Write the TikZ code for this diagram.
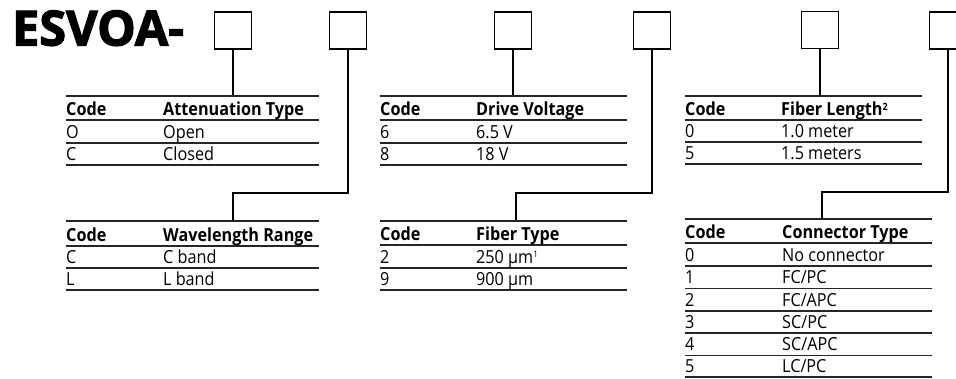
\documentclass[tikz,border=0pt]{standalone}
\usepackage{fontspec}
\setmainfont[FakeStretch=0.9]{Open Sans}
\newfontfamily\titlefont[BoldFeatures={FakeBold=2.5}]{Open Sans}
\newcommand\crow[6]{\node[cell] (#1c) at (#2,#4) {#5}; \node[cell] (#1t) at (#3,#4) {#6};}
\newcommand\hrow[5]{\node[hd] (#1c) at (#2,#4) {Code}; \node[hd] (#1t) at (#3,#4) {#5};}
\newcommand\crule[3]{\draw[rule] (#1,#3) -- (#2,#3);}
\begin{document}
\begin{tikzpicture}[x=1pt,y=-1pt]
\tikzset{
 codebox/.style={draw, line width=1.1pt, minimum width=37pt, minimum height=37pt, inner sep=0pt, outer sep=0pt},
 rule/.style={line width=1.3pt, draw=black!85},
 link/.style={line width=1.1pt},
 hd/.style={anchor=base west, font=\bfseries\fontsize{18}{18}\selectfont, inner sep=0pt},
 cell/.style={anchor=base west, font=\fontsize{18}{18}\selectfont, inner sep=0pt},
}
\useasboundingbox (0,0) rectangle (956,378);
\node[anchor=base west, inner sep=0pt, font=\titlefont\bfseries\fontsize{48.5}{48.5}\selectfont] (title) at (12,45.5) {ESVOA-};
% code boxes
\node[codebox] (b1) at (233,30.5) {};
\node[codebox] (b2) at (348,30.5) {};
\node[codebox] (b3) at (513,30.5) {};
\node[codebox] (b4) at (652,30.5) {};
\node[codebox] (b5) at (820,30) {};
\node[codebox] (b6) at (948,30.5) {};
% table anchor points and elbows
\coordinate (t1) at (233,96);
\coordinate (t2) at (233,221);
\coordinate (e2) at (348,193);
\coordinate (t3) at (513,96);
\coordinate (t4) at (516,221);
\coordinate (e4) at (652,193);
\coordinate (t5) at (820,96);
\coordinate (t6) at (822,219);
\coordinate (e6) at (948,192);
% connectors
\draw[link] (b1.south) -- (t1);
\draw[link] (b2.south) -- (e2) -| (t2);
\draw[link] (b3.south) -- (t3);
\draw[link] (b4.south) -- (e4) -| (t4);
\draw[link] (b5.south) -- (t5);
\draw[link] (b6.south) -- (e6) -| (t6);
% table 1
\crule{66}{319}{96}\crule{66}{319}{120}\crule{66}{319}{143}\crule{66}{319}{165}
\hrow{a0}{66}{163}{115}{Attenuation Type}
\crow{a1}{66}{163}{138}{O}{Open}
\crow{a2}{66}{163}{160}{C}{Closed}
% table 2
\crule{66}{319}{221}\crule{66}{319}{246}\crule{66}{319}{268}\crule{66}{319}{290}
\hrow{w0}{66}{163}{241}{Wavelength Range}
\crow{w1}{66}{163}{263}{C}{C band}
\crow{w2}{66}{163}{285}{L}{L band}
% table 3
\crule{380}{627}{96}\crule{380}{627}{120}\crule{380}{627}{143}\crule{380}{627}{165}
\hrow{d0}{380}{476}{115}{Drive Voltage}
\crow{d1}{380}{476}{138}{6}{6.5 V}
\crow{d2}{380}{476}{160}{8}{18 V}
% table 4
\crule{380}{627}{221}\crule{380}{627}{245}\crule{380}{627}{268}\crule{380}{627}{290}
\hrow{f0}{380}{476}{240}{Fiber Type}
\crow{f1}{380}{476}{263}{2}{250 µm{\fontsize{9}{9}\selectfont\raisebox{6pt}{1}}}
\crow{f2}{380}{476}{285}{9}{900 µm}
% table 5
\crule{685}{922}{96}\crule{685}{922}{120}\crule{685}{922}{142}\crule{685}{922}{164}
\hrow{l0}{685}{781}{115}{Fiber Length{\fontsize{10}{10}\selectfont\raisebox{5pt}{2}}}
\crow{l1}{685}{781}{137}{0}{1.0 meter}
\crow{l2}{685}{781}{159}{5}{1.5 meters}
% table 6
\crule{685}{932}{219}\crule{685}{932}{243}\crule{685}{932}{266}\crule{685}{932}{288.5}
\crule{685}{932}{311}\crule{685}{932}{333}\crule{685}{932}{355.5}\crule{685}{932}{377}
\hrow{c0}{685}{782}{238}{Connector Type}
\crow{c1}{685}{782}{261}{0}{No connector}
\crow{c2}{685}{782}{283.5}{1}{FC/PC}
\crow{c3}{685}{782}{306}{2}{FC/APC}
\crow{c4}{685}{782}{328}{3}{SC/PC}
\crow{c5}{685}{782}{350.5}{4}{SC/APC}
\crow{c6}{685}{782}{372}{5}{LC/PC}
\end{tikzpicture}
\end{document}
